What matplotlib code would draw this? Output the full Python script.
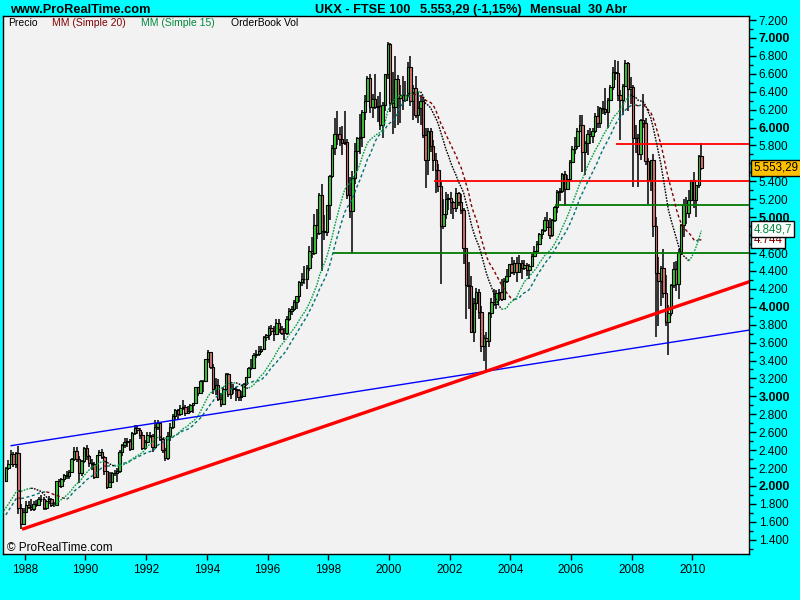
import numpy as np
import pandas as pd
import matplotlib
matplotlib.use("Agg")
import matplotlib.pyplot as plt
from matplotlib.ticker import FixedLocator

# ---------------- data (monthly FTSE 100, May 1987 .. Apr 2010) ----------------
first_month = (1987, 5)
pre_close = [1364, 1440, 1413, 1435, 1544, 1669, 1661, 1603, 1650, 1558, 1661,
             1556, 1632, 1637, 1679, 1808, 1979, 1998, 2051]  # Oct 1985 .. Apr 1987 (MA warm-up)

close = [
    2203, 2249, 2361, 2250, 2366, 1750, 1580, 1713,
    1791, 1769, 1743, 1802, 1784, 1858, 1854, 1754, 1827, 1852, 1792, 1793,
    2052, 2002, 2075, 2118, 2114, 2151, 2297, 2388, 2299, 2143, 2277, 2423,
    2337, 2255, 2248, 2103, 2345, 2375, 2326, 2163, 1990, 2050, 2149, 2144,
    2170, 2381, 2457, 2486, 2500, 2415, 2589, 2646, 2622, 2566, 2420, 2493,
    2571, 2562, 2440, 2654, 2708, 2521, 2400, 2313, 2553, 2658, 2779, 2847,
    2807, 2868, 2879, 2813, 2841, 2900, 2927, 3100, 3038, 3171, 3167, 3418,
    3492, 3328, 3086, 3125, 2971, 2919, 3083, 3251, 3026, 3097, 3081, 3066,
    2992, 3009, 3138, 3217, 3319, 3315, 3463, 3478, 3508, 3529, 3664, 3689,
    3759, 3728, 3700, 3818, 3748, 3711, 3703, 3868, 3954, 3979, 4058, 4119,
    4276, 4308, 4313, 4436, 4621, 4605, 4908, 4818, 5244, 4842, 4832, 5136,
    5459, 5767, 5932, 5928, 5871, 5833, 5837, 5249, 5064, 5438, 5744, 5883,
    5896, 6175, 6295, 6552, 6226, 6319, 6232, 6246, 6030, 6256, 6597, 6930,
    6269, 6233, 6540, 6327, 6359, 6313, 6365, 6673, 6294, 6438, 6142, 6223,
    6298, 5918, 5634, 5967, 5796, 5643, 5529, 5345, 4903, 5040, 5204, 5217,
    5165, 5101, 5272, 5166, 5085, 4656, 4246, 4227, 3722, 4040, 4169, 3940,
    3567, 3656, 3613, 3926, 4048, 4031, 4157, 4161, 4091, 4288, 4343, 4477,
    4391, 4492, 4386, 4490, 4431, 4464, 4413, 4459, 4571, 4624, 4703, 4814,
    4852, 4969, 4894, 4802, 4964, 5113, 5282, 5297, 5478, 5317, 5423, 5619,
    5760, 5792, 5965, 6023, 5724, 5833, 5928, 5906, 5961, 6129, 6049, 6221,
    6203, 6172, 6308, 6449, 6621, 6608, 6360, 6303, 6467, 6722, 6432, 6457,
    5880, 5884, 5702, 6087, 6054, 5626, 5412, 5637, 4903, 4377, 4288, 4434,
    4150, 3830, 3926, 4244, 4418, 4249, 4608, 4909, 5134, 5045, 5191, 5413,
    5189, 5355, 5680, 5553.29,
]
high = [
    2215, 2290, 2400, 2380, 2380, 2443, 1800, 1750,
    1830, 1830, 1850, 1830, 1840, 1880, 1900, 1880, 1840, 1890, 1870, 1820,
    2060, 2080, 2090, 2130, 2170, 2180, 2310, 2430, 2430, 2330, 2290, 2440,
    2460, 2350, 2300, 2270, 2350, 2400, 2410, 2330, 2170, 2160, 2160, 2180,
    2200, 2400, 2470, 2530, 2530, 2520, 2600, 2680, 2680, 2650, 2600, 2510,
    2600, 2600, 2580, 2740, 2740, 2710, 2540, 2420, 2600, 2700, 2800, 2860,
    2860, 2900, 2960, 2900, 2890, 2920, 2930, 3100, 3110, 3180, 3180, 3420,
    3520, 3500, 3360, 3200, 3190, 3040, 3100, 3260, 3260, 3140, 3140, 3110,
    3080, 3060, 3150, 3220, 3330, 3420, 3480, 3520, 3560, 3560, 3670, 3700,
    3790, 3800, 3780, 3860, 3860, 3780, 3760, 3900, 3990, 4010, 4080, 4120,
    4290, 4380, 4460, 4470, 4680, 4780, 5030, 5090, 5270, 5370, 5020, 5140,
    5470, 5800, 6110, 6180, 6010, 6020, 6180, 5870, 5450, 5520, 5830, 5890,
    6150, 6200, 6360, 6580, 6600, 6370, 6600, 6350, 6400, 6290, 6600, 6950,
    6940, 6620, 6800, 6590, 6480, 6580, 6520, 6730, 6800, 6470, 6570, 6400,
    6360, 6340, 5990, 6000, 5990, 5860, 5720, 5590, 5400, 5200, 5280, 5260,
    5280, 5180, 5330, 5280, 5260, 5100, 4660, 4500, 4340, 4100, 4210, 4200,
    4010, 3680, 3720, 3940, 4100, 4200, 4190, 4200, 4310, 4320, 4420, 4480,
    4560, 4520, 4560, 4580, 4520, 4520, 4490, 4480, 4590, 4680, 4730, 4820,
    4870, 5000, 5060, 4990, 4980, 5120, 5300, 5330, 5490, 5520, 5470, 5640,
    5790, 5900, 6000, 6140, 6140, 5850, 5970, 6000, 6000, 6160, 6240, 6230,
    6300, 6440, 6330, 6480, 6680, 6750, 6740, 6420, 6490, 6750, 6730, 6560,
    6480, 6030, 5930, 6100, 6380, 6110, 5660, 5640, 5710, 5000, 4560, 4450,
    4640, 4360, 4020, 4250, 4500, 4510, 4640, 4920, 5200, 5220, 5300, 5420,
    5500, 5360, 5690, 5830,
]
low = [
    2040, 2180, 2240, 2210, 2200, 1684, 1520, 1560,
    1700, 1740, 1720, 1720, 1760, 1780, 1820, 1730, 1730, 1800, 1770, 1760,
    1780, 1990, 1980, 2050, 2080, 2080, 2140, 2280, 2270, 2030, 2110, 2260,
    2290, 2210, 2180, 2080, 2090, 2330, 2300, 2120, 1970, 1980, 2030, 2110,
    2050, 2150, 2340, 2420, 2430, 2390, 2400, 2570, 2580, 2520, 2400, 2400,
    2480, 2530, 2380, 2420, 2620, 2500, 2370, 2280, 2290, 2500, 2640, 2740,
    2740, 2780, 2850, 2780, 2800, 2810, 2820, 2920, 3000, 3030, 3050, 3160,
    3370, 3300, 3030, 3020, 2950, 2880, 2900, 3070, 2990, 2970, 3030, 2950,
    2950, 2950, 2990, 3120, 3210, 3290, 3300, 3430, 3450, 3480, 3520, 3620,
    3630, 3680, 3620, 3690, 3710, 3690, 3630, 3690, 3840, 3910, 3950, 3980,
    4050, 4230, 4250, 4200, 4400, 4540, 4580, 4760, 4800, 4400, 4740, 4790,
    4970, 5440, 5690, 5800, 5790, 5690, 5800, 5200, 4990, 4600, 5370, 5520,
    5700, 5780, 6080, 6280, 6160, 6110, 6210, 6060, 5970, 5880, 6190, 6540,
    6170, 5930, 6000, 6030, 6050, 6200, 6280, 6340, 6240, 6080, 6110, 6050,
    6030, 5880, 5330, 5470, 5730, 5520, 5270, 5280, 4250, 4870, 4980, 5080,
    5040, 4980, 5060, 5120, 5040, 4480, 3860, 3970, 3710, 3610, 3960, 3860,
    3490, 3390, 3280, 3550, 3870, 4010, 3970, 4070, 4070, 4090, 4260, 4340,
    4370, 4360, 4280, 4380, 4310, 4410, 4340, 4310, 4440, 4550, 4600, 4690,
    4760, 4840, 4880, 4760, 4780, 4950, 5050, 5180, 5270, 5130, 5300, 5400,
    5600, 5700, 5760, 5950, 5500, 5470, 5690, 5820, 5830, 5940, 6000, 6000,
    6150, 6140, 5990, 6300, 6420, 6530, 6300, 5860, 6140, 6450, 6180, 6260,
    5340, 5720, 5340, 5640, 6000, 5580, 5150, 5290, 4780, 3660, 3780, 4010,
    4100, 3780, 3460, 3900, 4210, 4180, 4090, 4580, 4780, 4920, 4990, 5180,
    5100, 5000, 5330, 5530,
]

# trend lines (anchor dates in years, values) and horizontal levels (start date, value)
red_trend_t = [1987.91, 2003.20]
red_trend_v = [1517, 3280]
blue_trend_t = [1987.55, 2003.20]
blue_trend_v = [2450, 3280]
levels_start = [2007.48, 2001.48, 2005.47, 1998.15]
levels_value = [5814, 5404, 5133, 4600]
levels_color = ["#FF0000", "#FF0000", "#007A00", "#007A00"]

legend_items = ["Precio", "MM (Simple 20)", "MM (Simple 15)", "OrderBook Vol"]
legend_colors = ["black", "#800000", "#008A3C", "black"]

# ---------------- derived series ----------------
n = len(close)
n_pre = len(pre_close)
t0 = first_month[0] + (first_month[1] - 0.5) / 12.0
t = t0 + np.arange(n) / 12.0
t_all = t0 + (np.arange(n_pre + n) - n_pre) / 12.0
close_arr = np.array(close, dtype=float)
open_arr = np.array([pre_close[-1]] + close[:-1], dtype=float)
high_arr = np.maximum(np.array(high, dtype=float), np.maximum(open_arr, close_arr))
low_arr = np.minimum(np.array(low, dtype=float), np.minimum(open_arr, close_arr))
all_close = pd.Series(list(pre_close) + list(close), dtype=float)
ma15 = all_close.rolling(15).mean().values
ma20 = all_close.rolling(20).mean().values

# ---------------- figure ----------------
fig = plt.figure(figsize=(8, 6), dpi=100, facecolor="#00FFFF")
ax = fig.add_axes([3 / 800, 46 / 600, 746 / 800, 538 / 600])
ax.set_facecolor("#F2F2F2")
ax.set_xlim(1987.282, 2011.862)
ax.set_ylim(1241, 7245)

# candles
up = close_arr >= open_arr
body_bottom = np.minimum(open_arr, close_arr)
body_h = np.abs(close_arr - open_arr)
ax.vlines(t, low_arr, high_arr, color="black", lw=1.1, zorder=2)
ax.bar(t, body_h, bottom=body_bottom, width=0.08,
       color=np.where(up, "#38C838", "#D87070"), edgecolor="black",
       linewidth=0.8, zorder=3)

# horizontal levels
for s, v, c in zip(levels_start, levels_value, levels_color):
    ax.plot([s, 2012.5], [v, v], color=c, lw=1.3, zorder=4, solid_capstyle="butt")

# trend lines extended to right edge
def extend(tt, vv, x_end=2012.5):
    slope = (vv[1] - vv[0]) / (tt[1] - tt[0])
    return [tt[0], x_end], [vv[0], vv[0] + slope * (x_end - tt[0])]

bx, by = extend(blue_trend_t, blue_trend_v)
ax.plot(bx, by, color="#0000FF", lw=1.0, zorder=5)
rx, ry = extend(red_trend_t, red_trend_v)
ax.plot(rx, ry, color="#FF0000", lw=2.4, zorder=5, solid_capstyle="butt")

# moving averages coloured by direction
def draw_ma(ma, up_col, dn_col, ls):
    idx = np.where(~np.isnan(ma))[0]
    xs, ys = t_all[idx], ma[idx]
    d = np.diff(ys) >= 0
    start = 0
    for i in range(1, len(d) + 1):
        if i == len(d) or d[i] != d[start]:
            ax.plot(xs[start:i + 1], ys[start:i + 1], color=up_col if d[start] else dn_col,
                    lw=1.0, linestyle=ls, zorder=6)
            start = i

draw_ma(ma20, "#007070", "#800000", (0, (2.2, 1.8)))
draw_ma(ma15, "#00A040", "#000000", (0, (1.2, 0.9)))

# axes styling
for sp in ax.spines.values():
    sp.set_color("black")
    sp.set_linewidth(1.0)
ax.yaxis.tick_right()
yt = list(range(1400, 7201, 200))
hidden = {5600, 4800}  # covered by the value boxes in the reference
ax.yaxis.set_major_locator(FixedLocator(yt))
ax.yaxis.set_minor_locator(FixedLocator(list(range(1300, 7250, 200))))
ax.set_yticklabels(["" if v in hidden else f"{v:,}".replace(",", ".") for v in yt])
for lbl, v in zip(ax.get_yticklabels(), yt):
    lbl.set_fontfamily("Liberation Sans")
    lbl.set_fontweight("bold" if v % 1000 == 0 else "normal")
    lbl.set_fontsize(9 if v % 1000 == 0 else 8.5)
ax.tick_params(axis="y", which="major", length=5, width=1, pad=2, colors="black")
ax.tick_params(axis="y", which="minor", length=3, width=1, colors="black")
xt = list(range(1988, 2011, 2))
ax.set_xticks(xt)
ax.set_xticklabels([str(v) for v in xt], fontsize=8.5, family="Liberation Sans")
ax.tick_params(axis="x", which="major", length=4, width=1, pad=3, colors="black")

# right-side value labels
box_font = dict(fontsize=8.3, family="Liberation Sans", ha="left", va="center",
                annotation_clip=False, xycoords=("axes fraction", "data"))
ax.annotate("4.744", xy=(1.006, ma20[-1]), color="#800000",
            bbox=dict(boxstyle="square,pad=0.18", fc="white", ec="black", lw=1), zorder=10,
            **box_font)
ax.annotate("4.849,7", xy=(1.006, ma15[-1] + 15), color="#008A3C",
            bbox=dict(boxstyle="square,pad=0.18", fc="white", ec="black", lw=1), zorder=11,
            **box_font)
ax.annotate("5.553,29", xy=(1.006, close_arr[-1]), color="black",
            bbox=dict(boxstyle="square,pad=0.18", fc="#FFC000", ec="black", lw=1), zorder=12,
            **box_font)

# header texts
hdr = dict(fontsize=9.2, fontweight="bold", family="Liberation Sans", va="center", ha="left")
fig.text(10 / 800, 1 - 10 / 600, "www.ProRealTime.com", **hdr)
fig.text(315 / 800, 1 - 10 / 600, "UKX - FTSE 100", **hdr)
fig.text(420 / 800, 1 - 10 / 600, "5.553,29 (-1,15%)", **hdr)
fig.text(530 / 800, 1 - 10 / 600, "Mensual  30 Abr", **hdr)

# legend line inside plot
leg_x = [8, 52, 141, 231]
for x, s, c in zip(leg_x, legend_items, legend_colors):
    fig.text(x / 800, 1 - 23 / 600, s, fontsize=7.5, color=c, family="Liberation Sans",
             va="center", ha="left")

fig.text(7 / 800, 1 - 548 / 600, "\u00a9 ProRealTime.com", fontsize=8.5, color="black",
         family="Liberation Sans", va="center", ha="left")

fig.savefig("out.png", dpi=100, facecolor=fig.get_facecolor())
